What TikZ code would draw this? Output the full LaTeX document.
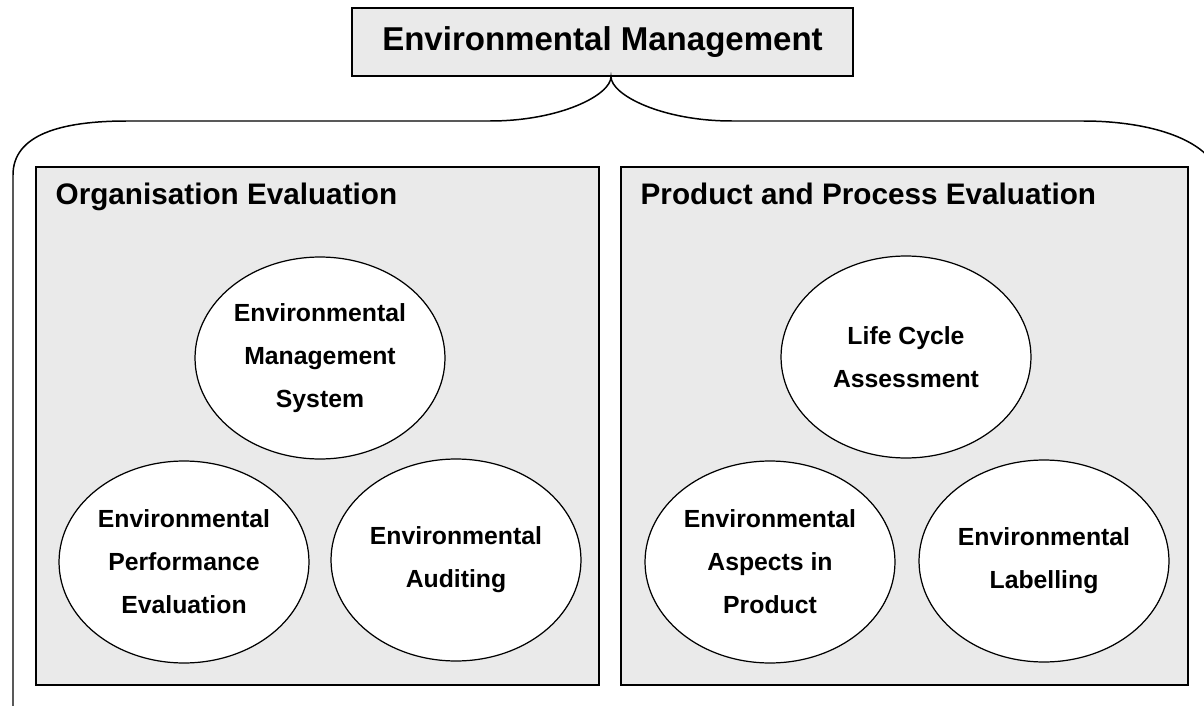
\documentclass[tikz,border=0pt]{standalone}
\usepackage{fontspec}
\setmainfont{Liberation Sans}
\usepackage{tikz}
\usetikzlibrary{positioning,shapes.geometric,calc}
\definecolor{panelgray}{HTML}{EAEAEA}

\begin{document}
\begin{tikzpicture}[
  x=0.02cm, y=-0.02cm,
  titlebox/.style={draw, line width=0.75pt, fill=panelgray, minimum width=10.02cm, minimum height=1.36cm, font=\fontsize{18.8}{22}\selectfont\bfseries},
  panel/.style={draw, line width=0.85pt, fill=panelgray, minimum height=10.36cm},
  head/.style={anchor=base west, inner sep=0pt, font=\fontsize{16.9}{20}\selectfont\bfseries},
  topic/.style={ellipse, draw, line width=0.7pt, fill=white, inner sep=0pt, minimum width=5cm, minimum height=4.04cm, align=center, font=\fontsize{14.1}{24.4}\selectfont\bfseries},
  brace/.style={line width=0.85pt}
]
\useasboundingbox (0,0) rectangle (1204,706);

% Title
\node[titlebox] (envman) at (602.5,42) {Environmental Management};
\coordinate (tip) at ($(envman.south)+(8.5,0)$);

% Brace under the title, running off the page
\begin{scope}
  \clip (0,0) rectangle (1204,706);
  \draw[brace] (13,720) -- (13,175) .. controls (13,135) and (60,121) .. (127,121)
    -- (490,121) .. controls (560,121) and (611,95) .. (tip)
    .. controls (611,95) and (662,121) .. (732,121)
    -- (1083,121) .. controls (1150,121) and (1222,140) .. (1222,190) -- (1222,720);
\end{scope}

% Two panels
\node[panel, minimum width=11.26cm] (orgbox) at (317.5,426) {};
\node[panel, minimum width=11.34cm] (prodbox) at (904.5,426) {};

\node[head] (orghead) at ($(orgbox.north west)+(20,38)$) {Organisation Evaluation};
\node[head] (prodhead) at ($(prodbox.north west)+(20,38)$) {Product and Process Evaluation};

% Organisation side
\node[topic] (ems) at (320,358) {Environmental\\Management\\System};
\node[topic] (epe) at (184,562) {Environmental\\Performance\\Evaluation};
\node[topic] (audit) at (456,560) {Environmental\\Auditing};

% Product side
\node[topic] (lca) at (906,357) {Life Cycle\\Assessment};
\node[topic] (aspects) at (770,562) {Environmental\\Aspects in\\Product};
\node[topic] (label) at (1044,561) {Environmental\\Labelling};

\end{tikzpicture}
\end{document}
